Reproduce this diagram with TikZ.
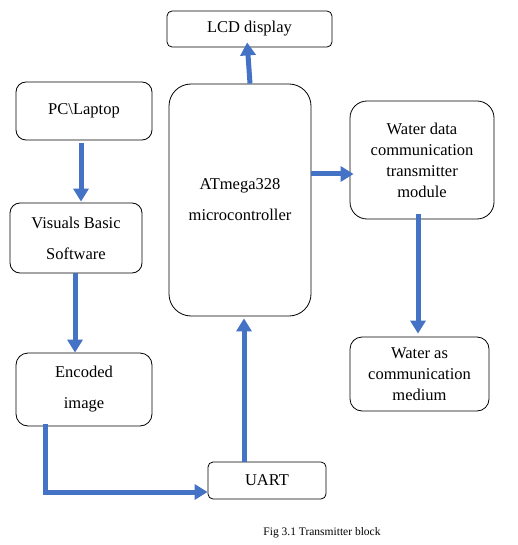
\documentclass[tikz,border=0pt]{standalone}
\usepackage{fontspec}
\setmainfont{Liberation Serif}
\usetikzlibrary{arrows.meta}

\begin{document}
\begin{tikzpicture}[x=1pt,y=-1pt,
                    block/.style={draw, rectangle, line width=0.8pt, align=center,
                                  font=\fontsize{16.5}{21}\selectfont, inner sep=0pt},
                    wide/.style={font=\fontsize{16.5}{31}\selectfont},
                    flow/.style={draw=flowblue, line width=5pt,
                                 -{Triangle[width=15pt,length=13pt]}}]
                \definecolor{flowblue}{HTML}{4472C4}
                \useasboundingbox (0,0) rectangle (517,545);
                % blocks
                \node[block, rounded corners=5pt, minimum width=165pt, minimum height=36pt] (lcd) at (249.5,29) {LCD display};
                \node[block, rounded corners=10pt, minimum width=136pt, minimum height=58pt] (pc) at (84,111) {PC\textbackslash Laptop};
                \node[block, wide, rounded corners=10pt, minimum width=132pt, minimum height=70pt] (vbs) at (76,238) {Visuals Basic\\Software};
                \node[block, wide, rounded corners=22pt, minimum width=142pt, minimum height=232pt] (mcu) at (240,200) {ATmega328\\microcontroller};
                \node[block, rounded corners=17pt, minimum width=144pt, minimum height=118pt] (wdc) at (422,160) {Water data\\communication\\transmitter\\module};
                \node[block, rounded corners=12pt, minimum width=139pt, minimum height=74pt] (wam) at (419.5,374) {Water as\\communication\\medium};
                \node[block, wide, rounded corners=12pt, minimum width=136pt, minimum height=73pt] (enc) at (84,389.5) {Encoded\\image};
                \node[block, rounded corners=5pt, minimum width=118pt, minimum height=37pt] (uart) at (267,480.5) {UART};
                \node[font=\fontsize{11.5}{14}\selectfont] (cap) at (322,533) {Fig 3.1 Transmitter block};
                % connectors
                \draw[flow, shorten <=3pt, shorten >=1pt] ([xshift=-3pt]pc.south) -- ([xshift=5pt]vbs.north);
                \draw[flow, shorten >=0pt] ([xshift=-1pt]vbs.south) -- ([xshift=-1pt]vbs.south |- enc.north);
                \draw[flow] ([xshift=30pt,yshift=2pt]enc.south west) |- ([yshift=-11.5pt]uart.west);
                \draw[flow, shorten >=2pt] ([xshift=-23pt]uart.north) -- ([xshift=-23pt]uart.north |- mcu.south);
                \draw[flow, shorten >=-5pt] ([xshift=10pt]mcu.north) -- ([xshift=-2pt]lcd.south);
                \draw[flow, shorten >=-4pt] ([yshift=26pt]mcu.east) -- ([yshift=26pt]mcu.east -| wdc.west);
                \draw[flow, shorten <=-5pt, shorten >=3pt] ([xshift=-4pt]wdc.south) -- ([xshift=-4pt]wdc.south |- wam.north);
\end{tikzpicture}
\end{document}
